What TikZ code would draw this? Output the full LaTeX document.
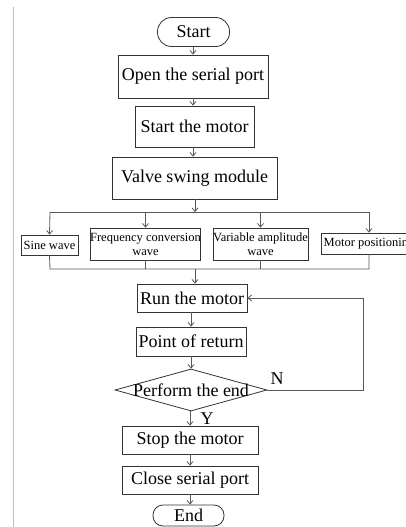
\documentclass[tikz,border=0pt]{standalone}
\usepackage{fontspec}
\setmainfont{Liberation Serif}
\usetikzlibrary{arrows.meta,shapes.geometric}
\begin{document}
\begin{tikzpicture}[x=1pt,y=-1pt,
  box/.style={draw=black!80,line width=0.8pt,fill=white,inner sep=0pt,align=center,font=\fontsize{18}{20}\selectfont},
  sbox/.style={draw=black!80,line width=0.8pt,fill=white,inner sep=0pt,align=center,font=\fontsize{12.5}{14}\selectfont},
  term/.style={box,rounded corners=#1},
  conn/.style={draw=black!65,line width=0.8pt},
  arr/.style={conn,-{Straight Barb[length=3.5pt,width=6pt]}},
  lbl/.style={font=\fontsize{18}{20}\selectfont,inner sep=0pt}]
\clip (0,0) rectangle (406,527);
\fill[white] (0,0) rectangle (406,527);
\draw[black!25,line width=1pt] (13,7) -- (13,527);

\node[term=14pt,minimum width=72pt,minimum height=29pt] (start) at (193.5,32) {Start};
\node[box,minimum width=150pt,minimum height=43pt] (open) at (193,76.5) {Open the serial port};
\node[box,minimum width=119pt,minimum height=41pt] (smotor) at (194.5,126.5) {Start the motor};
\node[box,minimum width=165pt,minimum height=42pt] (valve) at (194.5,178) {Valve swing module};

\node[sbox,minimum width=57pt,minimum height=20pt] (sine) at (49.5,245) {Sine wave};
\node[sbox,minimum width=109pt,minimum height=32pt] (freq) at (145.5,244) {Frequency conversion\\wave};
\node[sbox,minimum width=95pt,minimum height=32pt] (vamp) at (260.5,244) {Variable amplitude\\wave};
\node[sbox,minimum width=96pt,minimum height=21pt] (mpos) at (369,243.5) {Motor positioning};

\node[box,minimum width=110pt,minimum height=28pt] (run) at (192,298) {Run the motor};
\node[box,minimum width=110pt,minimum height=29pt] (point) at (191,341.5) {Point of return};
\node[draw=black!80,line width=0.8pt,fill=white,diamond,inner sep=0pt,minimum width=152pt,minimum height=42pt] (dec) at (191,390) {};
\node[lbl] (dectext) at (dec.center) {Perform the end};
\node[box,minimum width=136pt,minimum height=28pt] (stop) at (190,440) {Stop the motor};
\node[box,minimum width=136pt,minimum height=28pt] (close) at (190,480) {Close serial port};
\node[term=10pt,minimum width=71pt,minimum height=21pt] (end) at (188.5,515.5) {End};

\coordinate (bl) at (50,212);
\coordinate (br) at (369,212);
\coordinate (ml) at (50,269);
\coordinate (mr) at (369,269);
\coordinate (loopa) at (363,390);
\coordinate (loopb) at (363,298);

\draw[arr] (start.south -| 193,0) -- (open.north -| 193,0);
\draw[arr] (open.south -| 193,0) -- (smotor.north -| 193,0);
\draw[arr] (smotor.south -| 193,0) -- (valve.north -| 193,0);
\draw[arr] (valve.south -| 195,0) -- (195,212);
\draw[conn] (bl) -- (br);
\draw[arr] (bl) -- (sine.north);
\draw[arr] (freq.north |- bl) -- (freq.north);
\draw[arr] (vamp.north |- bl) -- (vamp.north);
\draw[arr] (br) -- (mpos.north);
\draw[conn] (sine.south) -- (ml) -- (mr) -- (mpos.south);
\draw[conn] (freq.south) -- (freq.south |- ml);
\draw[conn] (vamp.south) -- (vamp.south |- ml);
\draw[arr] (195,269) -- (run.north -| 195,0);
\draw[arr] (run.south -| 191,0) -- (point.north -| 191,0);
\draw[arr] (point.south -| 191,0) -- (dec.north);
\draw[arr] (dec.south -| 190,0) -- (stop.north -| 190,0);
\draw[arr] (stop.south -| 190,0) -- (close.north -| 190,0);
\draw[arr] (close.south -| 190,0) -- (end.north -| 190,0);
\draw[arr] (dec.east) -- (loopa) -- (loopb) -- (run.east);

\node[lbl] (nlab) at (277,379) {N};
\node[lbl] (ylab) at (207,419) {Y};
\end{tikzpicture}
\end{document}
